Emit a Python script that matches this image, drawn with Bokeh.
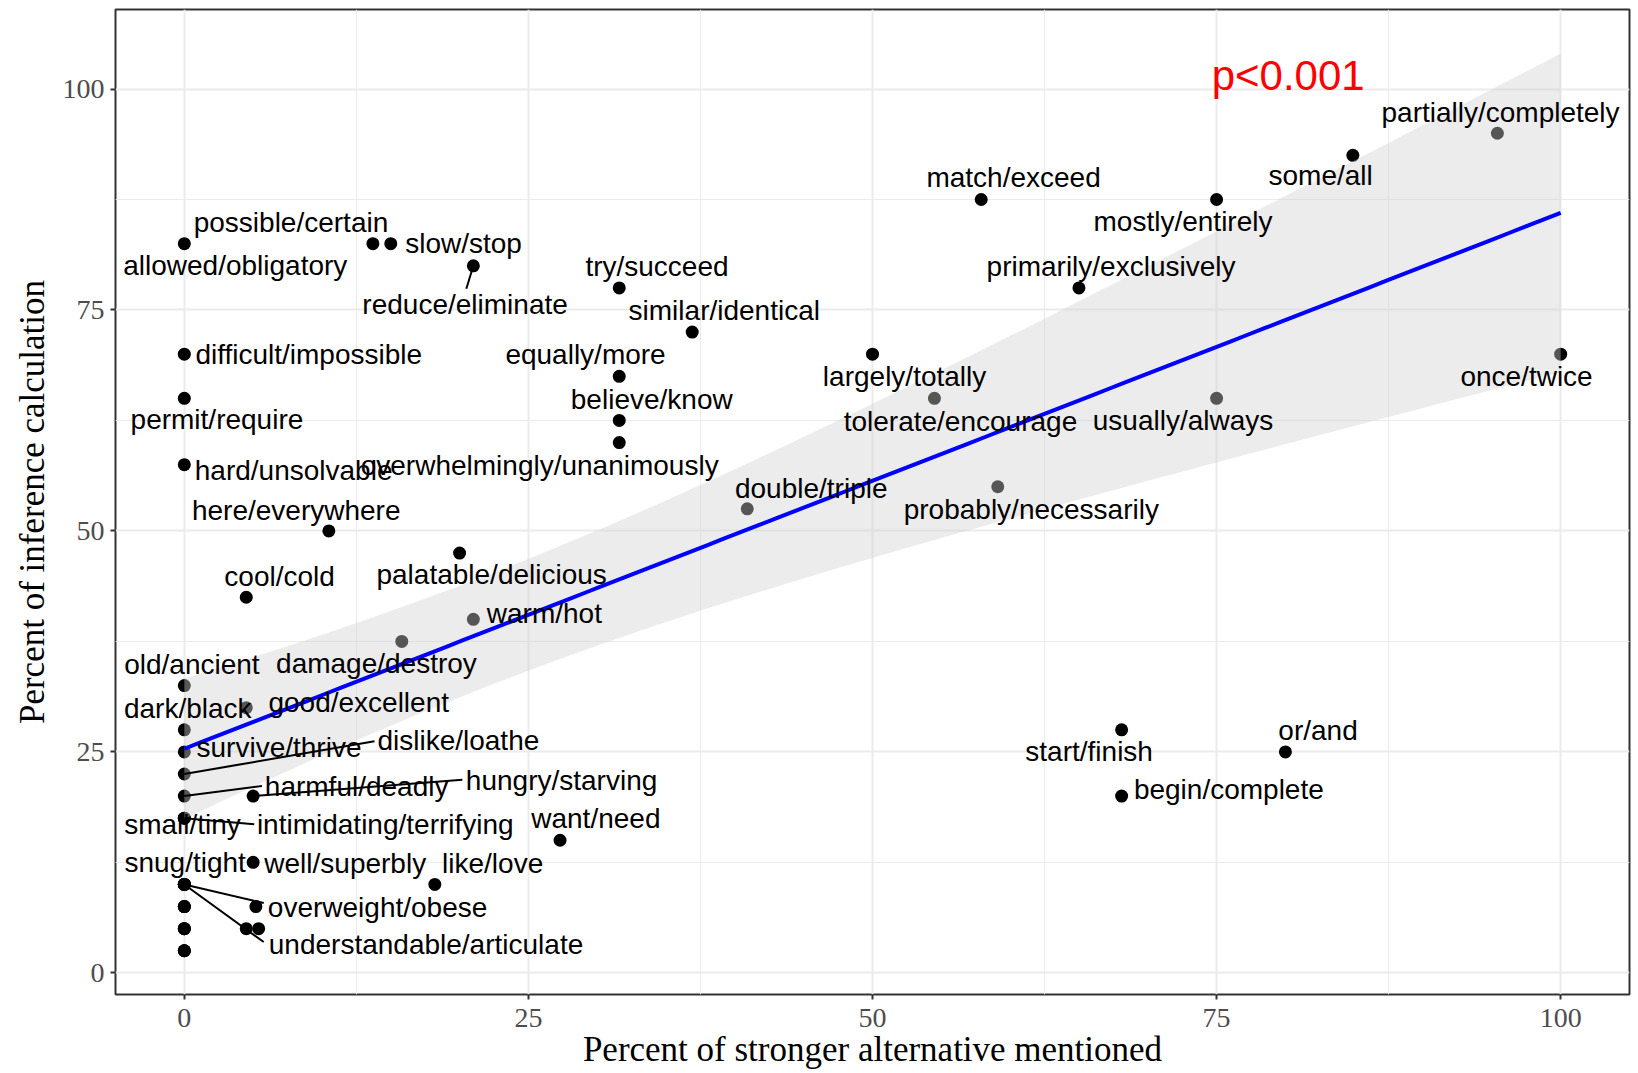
import numpy as np
from bokeh.plotting import figure
from bokeh.models import Range1d, FixedTicker, ColumnDataSource
from bokeh.core.properties import value
from bokeh.embed import file_html
from bokeh.resources import INLINE

# ---------------- data ----------------
# labelled scale pairs: percent of stronger alternative mentioned (x), percent of inference (y)
words = ["possible/certain", "allowed/obligatory", "slow/stop", "reduce/eliminate",
         "try/succeed", "similar/identical", "difficult/impossible", "equally/more",
         "believe/know", "permit/require", "hard/unsolvable", "overwhelmingly/unanimously",
         "here/everywhere", "cool/cold", "palatable/delicious", "warm/hot",
         "old/ancient", "damage/destroy", "dark/black", "good/excellent",
         "survive/thrive", "dislike/loathe", "harmful/deadly", "hungry/starving",
         "small/tiny", "intimidating/terrifying", "want/need", "snug/tight",
         "well/superbly", "like/love", "overweight/obese", "understandable/articulate",
         "match/exceed", "mostly/entirely", "some/all", "partially/completely",
         "primarily/exclusively", "largely/totally", "tolerate/encourage", "usually/always",
         "once/twice", "double/triple", "probably/necessarily", "start/finish",
         "or/and", "begin/complete"]
stronger_pct = [13.7, 0, 15.0, 21.0,
                31.6, 36.9, 0, 31.6,
                31.6, 0, 0, 31.6,
                10.5, 4.5, 20.0, 21.0,
                0, 15.8, 0, 4.5,
                0, 0, 0, 5.0,
                0, 0, 27.3, 0,
                5.0, 18.2, 0, 0,
                57.9, 75.0, 84.9, 95.4,
                65.0, 50.0, 54.5, 75.0,
                100.0, 40.9, 59.1, 68.1,
                80.0, 68.1]
inference_pct = [82.5, 82.5, 82.5, 80.0,
                 77.5, 72.5, 70.0, 67.5,
                 62.5, 65.0, 57.5, 60.0,
                 50.0, 42.5, 47.5, 40.0,
                 32.5, 37.5, 27.5, 30.0,
                 25.0, 22.5, 20.0, 20.0,
                 17.5, 17.5, 15.0, 10.0,
                 12.5, 10.0, 10.0, 10.0,
                 87.5, 87.5, 92.5, 95.0,
                 77.5, 70.0, 65.0, 65.0,
                 70.0, 52.5, 55.0, 27.5,
                 25.0, 20.0]
# unlabelled (overplotted) pairs
extra_stronger = [5.2, 4.5, 5.4, 0, 0, 0, 0, 0, 0, 0, 0, 0, 0, 0]
extra_inference = [7.5, 5.0, 5.0, 7.5, 5.0, 2.5, 2.5, 2.5, 5.0, 5.0, 7.5, 7.5, 10.0, 10.0]

# label placement (repelled label centres, data units)
lab_x = [7.75, 3.70, 20.29, 20.40, 34.34, 39.23, 9.04, 29.15, 33.96, 2.37, 7.94, 25.82,
         8.13, 6.92, 22.33, 26.16, 0.55, 13.96, 0.25, 12.67, 6.88, 19.91, 12.52, 27.41,
         -0.13, 14.60, 29.90, 0.06, 11.69, 22.40, 14.04, 17.56, 60.25, 72.56, 82.56, 95.63,
         67.33, 52.33, 56.39, 72.56, 97.52, 45.55, 61.54, 65.74, 82.37, 75.89]
lab_y = [84.87, 80.02, 82.5, 75.65, 79.9, 74.94, 69.98, 69.98, 64.89, 62.65, 56.86, 57.45,
         52.36, 44.9, 45.04, 40.66, 34.87, 34.99, 29.9, 30.6, 25.53, 26.24, 21.04, 21.75,
         16.78, 16.78, 17.5, 12.53, 12.41, 12.41, 7.45, 3.19, 89.95, 84.99, 90.19, 97.4,
         79.9, 67.5, 62.41, 62.53, 67.49, 54.85, 52.48, 25.06, 27.42, 20.69]
# leader segments: label index -> end point (data units)
seg_end = {3: (20.49, 77.4), 21: (13.82, 26.2), 22: (5.64, 21.14), 23: (20.2, 21.86),
           25: (5.08, 16.8), 30: (5.77, 7.9), 31: (5.77, 3.49)}

annot_text = "p<0.001"
annot_pos = (80.2, 101.5)

# ---------------- linear fit with 95% CI ----------------
all_x = np.array(stronger_pct + extra_stronger, dtype=float)
all_y = np.array(inference_pct + extra_inference, dtype=float)
n = len(all_x)
b, a = np.polyfit(all_x, all_y, 1)
resid = all_y - (a + b * all_x)
s = np.sqrt(np.sum(resid ** 2) / (n - 2))
mx = all_x.mean()
sxx = np.sum((all_x - mx) ** 2)
t975 = 2.0017
gx = np.linspace(all_x.min(), all_x.max(), 80)
gy = a + b * gx
se = s * np.sqrt(1.0 / n + (gx - mx) ** 2 / sxx)
lo = gy - t975 * se
hi = gy + t975 * se

# ---------------- figure ----------------
p = figure(width=1638, height=1073, output_backend="svg", toolbar_location=None,
           x_range=Range1d(-5, 105), y_range=Range1d(-2.45, 109.0),
           min_border_left=115, min_border_right=9, min_border_top=9, min_border_bottom=79)
p.background_fill_color = "white"
p.border_fill_color = "white"
p.outline_line_color = "#333333"
p.outline_line_width = 2

ticks = [0, 25, 50, 75, 100]
minor = [12.5, 37.5, 62.5, 87.5]
for ax in (p.xaxis[0], p.yaxis[0]):
    ax.ticker = FixedTicker(ticks=ticks, minor_ticks=minor)
    ax.major_label_text_font = "Liberation Serif"
    ax.major_label_text_font_size = "28px"
    ax.major_label_text_color = "#4d4d4d"
    ax.major_tick_line_color = "#333333"
    ax.major_tick_line_width = 2
    ax.major_tick_out = 5
    ax.major_tick_in = 0
    ax.minor_tick_line_color = None
    ax.axis_line_color = None
    ax.axis_label_text_font = "Liberation Serif"
    ax.axis_label_text_font_size = "35px"
    ax.axis_label_text_font_style = "normal"
    ax.axis_label_text_color = "black"
    ax.major_label_standoff = 6
    ax.axis_label_standoff = 8
p.xaxis.major_label_standoff = 9
p.xaxis.axis_label_standoff = 0
p.xaxis.major_label_text_line_height = 0.85
p.xaxis.axis_label_text_line_height = 0.85
p.xaxis.axis_label = "Percent of stronger alternative mentioned"
p.yaxis.axis_label = "Percent of inference calculation"

for g in (p.xgrid[0], p.ygrid[0]):
    g.grid_line_color = "#ebebeb"
    g.grid_line_width = 2
    g.minor_grid_line_color = "#ebebeb"
    g.minor_grid_line_width = 1

# points
p.scatter(all_x, all_y, size=13, fill_color="black", line_color="black", line_width=0)

# smooth (ribbon over points, then the line)
p.varea(x=gx, y1=lo, y2=hi, fill_color="#d0d0d0", fill_alpha=0.41)
p.line(gx, gy, line_color="#0000ff", line_width=4)

# leader segments
sx0, sy0, sx1, sy1 = [], [], [], []
for i, (ex, ey) in seg_end.items():
    sx0.append(stronger_pct[i]); sy0.append(inference_pct[i])
    sx1.append(ex); sy1.append(ey)
p.segment(sx0, sy0, sx1, sy1, line_color="black", line_width=2)

# labels
src = ColumnDataSource(dict(x=lab_x, y=lab_y, t=words))
p.text(x="x", y="y", text="t", source=src, text_font=value("Liberation Sans"),
       text_font_size="28px", text_align="center", text_baseline="middle", text_color="black")

p.text(x=[annot_pos[0]], y=[annot_pos[1]], text=[annot_text], text_font=value("Liberation Sans"),
       text_font_size="42px", text_align="center", text_baseline="middle", text_color="#ff0000")

open("out.html", "w").write(file_html(p, INLINE))
